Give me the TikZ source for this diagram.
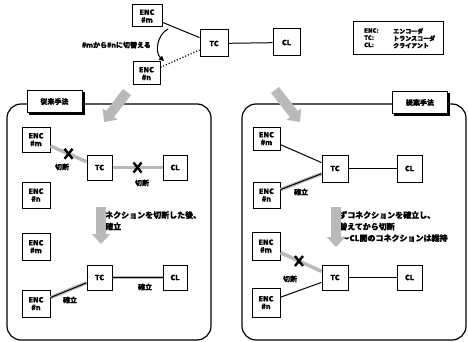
\documentclass[tikz,border=0pt]{standalone}
\usepackage{fontspec}
\setmainfont{Noto Sans CJK JP}[BoldFeatures={FakeBold=1.2}]
\usetikzlibrary{arrows.meta,calc}
\tikzset{
  box/.style={draw, line width=1pt, fill=white, font=\bfseries\fontsize{7.2}{7.6}\selectfont, align=center, inner sep=0pt},
  conn/.style={line width=1pt},
  halo/.style={line width=3.5pt, gray!55},
  xm/.style={line width=2.4pt, black},
  lbl/.style={font=\bfseries\fontsize{7}{8}\selectfont, inner sep=1pt},
  note/.style={font=\bfseries\fontsize{8}{11.5}\selectfont, align=left, anchor=north west, inner sep=0pt},
  panel/.style={draw, line width=1.2pt, rounded corners=14pt},
  tag/.style={draw, line width=1pt, fill=white, font=\bfseries\fontsize{7}{8}\selectfont, minimum width=55pt, minimum height=22pt, inner sep=0pt},
  bigarrow/.style={line width=10pt, gray!55, -{Triangle[length=10pt,width=18pt]}},
}
\newcommand{\mkX}[1]{\draw[xm] ($(#1)+(-4,-5)$) -- ($(#1)+(4,5)$) ($(#1)+(4,-5)$) -- ($(#1)+(-4,5)$);}
\begin{document}
\begin{tikzpicture}[x=1pt,y=-1pt]
\useasboundingbox (0,0) rectangle (468,342);
% ---------- top ----------
\node[box, minimum width=30pt, minimum height=22pt] (encm0) at (147,16) {ENC\\\#m};
\node[box, minimum width=27pt, minimum height=23pt] (encn0) at (146.5,73.5) {ENC\\\#n};
\node[box, minimum width=28pt, minimum height=27pt] (tc0) at (214,43.5) {TC};
\node[box, minimum width=27pt, minimum height=27pt] (cl0) at (286.5,42.5) {CL};
\draw[conn] (encm0) -- (tc0);
\draw[conn, dotted, line width=1.4pt] (encn0) -- (tc0);
\draw[conn] (tc0) -- (cl0);
\coordinate (cs) at (168,29);
\coordinate (ce) at (164,61);
\draw[conn, -{Triangle[length=5pt,width=5pt]}] (cs) to[bend right=55] (ce);
\node[lbl, anchor=east] (swtxt) at (152,45) {\#mから\#nに切替える};
% legend
\node[draw, line width=1pt, minimum width=90pt, minimum height=33pt] (legend) at (398,38.5) {};
\node[font=\bfseries\fontsize{6}{7.2}\selectfont, align=left, anchor=north west, inner sep=0pt] (legk) at (364,28) {ENC:\\TC:\\CL:};
\node[font=\bfseries\fontsize{6}{7.2}\selectfont, align=left, anchor=north west, inner sep=0pt] (legv) at (393,28) {エンコーダ\\トランスコーダ\\クライアント};
% ---------- left panel ----------
\draw[panel] (7,104) rectangle (211,340);
\node[tag] (tagL) at (54.5,101.5) {従来手法};
\draw[line width=2pt] ($(tagL.south west)+(2,1)$) -- ($(tagL.south east)+(1,1)$) -- ($(tagL.north east)+(1,2)$);
\node[box, minimum width=28pt, minimum height=25pt] (encmL1) at (36,139.5) {ENC\\\#m};
\node[box, minimum width=25pt, minimum height=25pt] (tcL1) at (99.5,167.5) {TC};
\node[box, minimum width=24pt, minimum height=25pt] (clL1) at (175,167.5) {CL};
\node[box, minimum width=28pt, minimum height=26pt] (encnL1) at (36,195) {ENC\\\#n};
\draw[halo] (encmL1) -- (tcL1) coordinate[pos=0.5] (xa);
\draw[halo] (tcL1) -- (clL1) coordinate[pos=0.5] (xb);
\mkX{xa}
\mkX{xb}
\node[lbl] (cutA) at (62,167) {切断};
\node[lbl] (cutB) at (142,183) {切断};
\node[note] (noteL) at (97,211) {コネクションを切断した後、\\再確立};
\coordinate (dLs) at (101,207);
\coordinate (dLe) at (101,244);
\draw[bigarrow] (dLs) -- (dLe);
\node[box, minimum width=28pt, minimum height=27pt] (encmL2) at (36,246.5) {ENC\\\#m};
\node[box, minimum width=25pt, minimum height=25pt] (tcL2) at (99.5,277.5) {TC};
\node[box, minimum width=24pt, minimum height=25pt] (clL2) at (175,277.5) {CL};
\node[box, minimum width=28pt, minimum height=27pt] (encnL2) at (36,303.5) {ENC\\\#n};
\draw[halo] (encnL2) -- (tcL2);
\draw[conn] (encnL2) -- (tcL2);
\draw[halo] (tcL2) -- (clL2);
\draw[conn] (tcL2) -- (clL2);
\node[lbl] (estA) at (70,300) {確立};
\node[lbl] (estB) at (145,287) {確立};
% ---------- right panel ----------
\draw[panel] (242,104) rectangle (466,340);
\node[tag] (tagR) at (420,102.5) {提案手法};
\draw[line width=2pt] ($(tagR.south west)+(2,1)$) -- ($(tagR.south east)+(1,1)$) -- ($(tagR.north east)+(1,2)$);
\node[box, minimum width=27pt, minimum height=23pt] (encmR1) at (266.5,138.5) {ENC\\\#m};
\node[box, minimum width=26pt, minimum height=27pt] (tcR1) at (335,168.5) {TC};
\node[box, minimum width=25pt, minimum height=27pt] (clR1) at (409.5,168.5) {CL};
\node[box, minimum width=27pt, minimum height=26pt] (encnR1) at (266.5,195) {ENC\\\#n};
\draw[conn] (encmR1) -- (tcR1);
\draw[halo] (encnR1) -- (tcR1);
\draw[conn] (encnR1) -- (tcR1);
\draw[conn] (tcR1) -- (clR1);
\node[lbl] (estC) at (301,192) {確立};
\node[note] (noteR) at (331,211) {まずコネクションを確立し、\\切替えてから切断\\TC～CL間のコネクションは維持};
\coordinate (dRs) at (336,207);
\coordinate (dRe) at (336,247);
\draw[bigarrow] (dRs) -- (dRe);
\node[box, minimum width=28pt, minimum height=28pt] (encmR2) at (266,246) {ENC\\\#m};
\node[box, minimum width=26pt, minimum height=25pt] (tcR2) at (335,277.5) {TC};
\node[box, minimum width=25pt, minimum height=25pt] (clR2) at (409.5,277.5) {CL};
\node[box, minimum width=28pt, minimum height=29pt] (encnR2) at (266,302.5) {ENC\\\#n};
\draw[halo] (encmR2) -- (tcR2) coordinate[pos=0.45] (xc);
\mkX{xc}
\draw[conn] (encnR2) -- (tcR2);
\draw[conn] (tcR2) -- (clR2);
\node[lbl] (cutC) at (290,279) {切断};
% ---------- big diagonal arrows into panels ----------
\coordinate (gLs) at (127,92);
\coordinate (gLe) at (104,122);
\draw[bigarrow] (gLs) -- (gLe);
\coordinate (gRs) at (275,90);
\coordinate (gRe) at (300,122);
\draw[bigarrow] (gRs) -- (gRe);
\end{tikzpicture}
\end{document}
